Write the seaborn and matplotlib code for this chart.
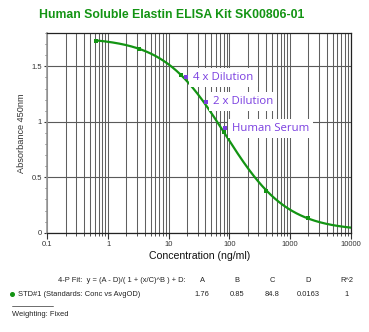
import numpy as np
import pandas as pd
import matplotlib
matplotlib.use("Agg")
import matplotlib.pyplot as plt
from matplotlib.ticker import LogLocator, FixedLocator, MultipleLocator
import seaborn as sns

# ---- data ----
std_conc = [0.64, 3.2, 16, 80, 400, 2000]
std_od = [1.73, 1.66, 1.42, 0.91, 0.38, 0.13]

sample_names = ["4 x Dilution", "2 x Dilution", "Human Serum"]
sample_conc = [19.5, 41.5, 83.0]
sample_od = [1.40, 1.18, 0.94]

fit_params = {"A": 1.76, "B": 0.85, "C": 84.8, "D": 0.0163}
r2 = 1
x_ticks = [0.1, 1, 10, 100, 1000, 10000]
x_ticklabels = ["0.1", "1", "10", "100", "1000", "10000"]
y_ticks = [0, 0.5, 1, 1.5]
y_ticklabels = ["0", "0.5", "1", "1.5"]

sns.set_style("white")
plt.rcParams['font.family'] = ['Liberation Sans', 'DejaVu Sans']

GREEN = "#139413"
PURPLE = "#7a3ee0"

fig = plt.figure(figsize=(3.69, 3.32), dpi=100)
ax = fig.add_axes([0.1287, 0.299, 0.822, 0.6015])

# fitted 4-P curve using the displayed parameters
A, B, C, D = fit_params["A"], fit_params["B"], fit_params["C"], fit_params["D"]
xc = np.logspace(np.log10(std_conc[0]), 4, 300)
yc = (A - D) / (1 + (xc / C) ** B) + D
curve = pd.DataFrame({"x": xc, "y": yc})
sns.lineplot(data=curve, x="x", y="y", ax=ax, color=GREEN, lw=1.6, zorder=3)

std = pd.DataFrame({"x": std_conc, "y": std_od})
sns.scatterplot(data=std, x="x", y="y", ax=ax, marker="s", s=10, color=GREEN,
                edgecolor=GREEN, linewidth=0, zorder=4)

samp = pd.DataFrame({"x": sample_conc, "y": sample_od, "name": sample_names})
sns.scatterplot(data=samp, x="x", y="y", ax=ax, marker="s", s=6, color=PURPLE,
                edgecolor=PURPLE, linewidth=0, zorder=5)
for xv, yv, nm in zip(sample_conc, sample_od, sample_names):
    ax.annotate(nm, (xv, yv), xytext=(5, 0), textcoords="offset points",
                ha="left", va="center", fontsize=8.2, color=PURPLE, zorder=6,
                family=["Open Sans", "DejaVu Sans"],
                bbox=dict(boxstyle="square,pad=0.35", fc="white", ec="none"))

ax.set_xscale("log")
ax.set_xlim(0.1, 10000)
ax.set_ylim(0, 1.8)
ax.xaxis.set_major_locator(FixedLocator(x_ticks))
ax.set_xticks(x_ticks)
ax.set_xticklabels(x_ticklabels)
ax.xaxis.set_minor_locator(LogLocator(base=10, subs=np.arange(2, 10)))
ax.xaxis.set_minor_formatter(plt.NullFormatter())
ax.set_yticks(y_ticks)
ax.set_yticklabels(y_ticklabels)
ax.yaxis.set_minor_locator(MultipleLocator(0.1))

ax.grid(True, which="both", axis="x", color="#606060", lw=0.75)
ax.grid(True, which="major", axis="y", color="#5a5a5a", lw=0.8)
ax.set_axisbelow(True)

ax.tick_params(axis="x", which="major", direction="out", length=4, width=0.8,
               color="#333333", labelsize=5.5, labelcolor="#333333", pad=2, bottom=True)
ax.tick_params(axis="x", which="minor", direction="out", length=2.5, width=0.6,
               color="#333333", bottom=True)
ax.tick_params(axis="y", which="major", direction="out", length=2.5, width=0.8,
               color="#333333", labelsize=5.5, labelcolor="#333333", pad=1.5, left=True)
ax.tick_params(axis="y", which="minor", direction="out", length=1.2, width=0.6,
               color="#555555", left=True)

for side in ["top", "right", "bottom"]:
    ax.spines[side].set_visible(True)
    ax.spines[side].set_color("#222222")
    ax.spines[side].set_linewidth(0.9)
ax.spines["left"].set_color("#9a9a9a")
ax.spines["left"].set_linewidth(1.2)

ax.set_xlabel("Concentration (ng/ml)", fontsize=7.6, color="#111111", labelpad=2)
ax.set_ylabel("Absorbance 450nm", fontsize=6.6, color="#333333", labelpad=4)

fig.text(0.465, 0.955, "Human Soluble Elastin ELISA Kit SK00806-01", ha="center",
         va="center", fontsize=8.8, fontweight="bold", color=GREEN)

# fit table below
H = 332.0
W = 369.0
def fx(px):
    return px / W
def fy(py):
    return 1 - py / H

fs = 5.4
tc = "#222222"
fig.text(fx(186), fy(281), "4-P Fit:  y = (A - D)/( 1 + (x/C)^B ) + D:", ha="right",
         va="center", fontsize=fs, color=tc)
cols_x = [202, 237, 272.5, 308, 347]
for cx, h in zip(cols_x, ["A", "B", "C", "D", "R^2"]):
    fig.text(fx(cx), fy(281), h, ha="center", va="center", fontsize=fs, color=tc)
vals = [f"{fit_params['A']:g}", f"{fit_params['B']:g}", f"{fit_params['C']:g}",
        f"{fit_params['D']:g}", f"{r2:g}"]
for cx, v in zip(cols_x, vals):
    fig.text(fx(cx), fy(294), v, ha="center", va="center", fontsize=fs, color=tc)
fig.text(fx(17.5), fy(294), "STD#1 (Standards: Conc vs AvgOD)", ha="left",
         va="center", fontsize=fs, color=tc)
fig.add_artist(plt.Line2D([fx(12.3)], [fy(294)], marker="o", markersize=2.6,
                          color=GREEN, transform=fig.transFigure))
fig.add_artist(plt.Line2D([fx(12), fx(53)], [fy(306), fy(306)], lw=0.6,
                          color="#555555", transform=fig.transFigure))
fig.text(fx(12), fy(315), "Weighting: Fixed", ha="left", va="center", fontsize=fs,
         color=tc)

fig.savefig("out.png", dpi=100)
